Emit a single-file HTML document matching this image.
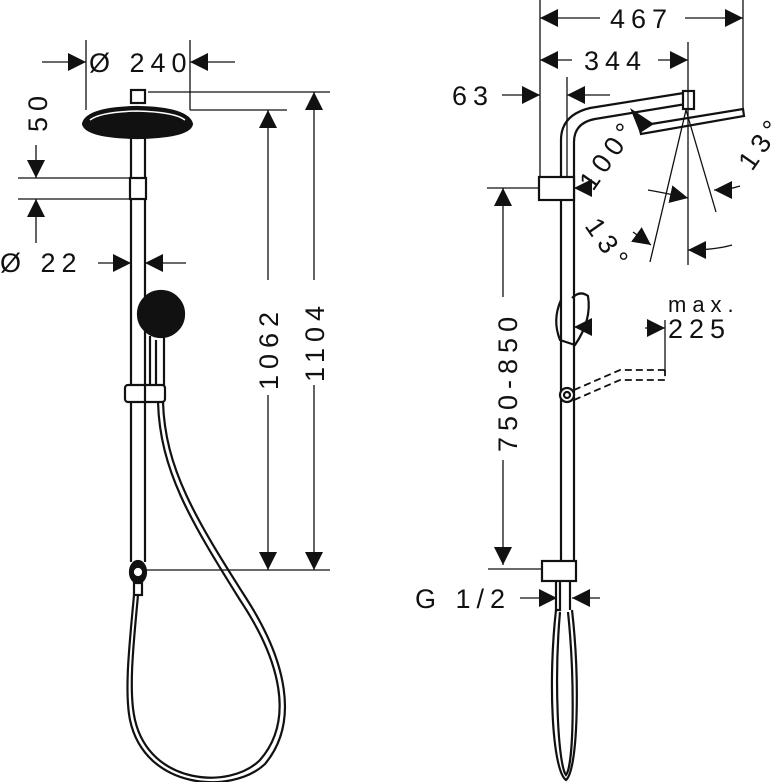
<!DOCTYPE html>
<html><head><style>html,body{margin:0;padding:0;background:#fff}svg{display:block}
text{font-family:"Liberation Sans",sans-serif;font-size:27px;fill:#111;stroke:none;letter-spacing:6px}</style></head>
<body>
<svg width="777" height="782" viewBox="0 0 777 782" xmlns="http://www.w3.org/2000/svg" stroke="#111" fill="none" stroke-width="1.3">
<defs>
<marker id="a" viewBox="0 0 10 10" refX="10" refY="5" markerWidth="18" markerHeight="18" markerUnits="userSpaceOnUse" orient="auto"><path d="M0,0 L10,5 L0,10 z" fill="#111" stroke="none"/></marker>
</defs>
<g stroke-width="2.2">
<line x1="131" y1="137" x2="131" y2="562"/><line x1="145" y1="137" x2="145" y2="562"/>
<rect x="131" y="90" width="14" height="13"/>
<rect x="130" y="178" width="16" height="21" fill="#fff"/>
<path d="M83,124 Q86,108 137,107 Q188,108 192,124 Q190,137 137,138 Q86,137 83,124 z" fill="#111"/>
<path d="M90,120 Q100,112 137,111 Q175,112 185,120" stroke="#fff" stroke-width="1.5"/>
<circle cx="161" cy="314" r="23" fill="#111"/>
<path d="M150,336 L150,392 M164,336 L164,392 M156,340 L156,392"/>
<rect x="125" y="385" width="40" height="17" rx="3" fill="#fff"/>
<line x1="145" y1="385" x2="145" y2="402"/>
<ellipse cx="138" cy="572" rx="8" ry="11" fill="#111"/>
<circle cx="138" cy="572" r="3" fill="#fff" stroke="#fff"/>
<rect x="134" y="583" width="8" height="12"/>
<path d="M158,402 C160,470 190,520 240,600 C280,660 295,720 260,760 C230,790 150,785 135,720 C128,690 134,640 138,595"/>
<path d="M163,402 C165,468 195,518 246,598 C286,660 300,722 265,764 C232,795 145,790 130,720 C124,690 130,640 134,595"/>
</g>
<line x1="86" y1="40" x2="86" y2="110"/><line x1="190" y1="40" x2="190" y2="110"/>
<line x1="42" y1="62" x2="86" y2="62" marker-end="url(#a)"/>
<line x1="235" y1="62" x2="190" y2="62" marker-end="url(#a)"/>
<text x="89" y="72">Ø 240</text>
<line x1="18" y1="178" x2="130" y2="178"/><line x1="18" y1="199" x2="130" y2="199"/>
<line x1="36" y1="145" x2="36" y2="178" marker-end="url(#a)"/>
<line x1="36" y1="243" x2="36" y2="199" marker-end="url(#a)"/>
<text transform="translate(47,132) rotate(-90)">50</text>
<text x="0" y="272">Ø  22</text>
<line x1="98" y1="263" x2="131" y2="263" marker-end="url(#a)"/>
<line x1="186" y1="263" x2="145" y2="263" marker-end="url(#a)"/>
<line x1="148" y1="92" x2="330" y2="92"/><line x1="190" y1="110" x2="287" y2="110"/>
<line x1="145" y1="570" x2="330" y2="570"/>
<line x1="268" y1="280" x2="268" y2="110" marker-end="url(#a)"/>
<line x1="268" y1="395" x2="268" y2="570" marker-end="url(#a)"/>
<line x1="314" y1="280" x2="314" y2="92" marker-end="url(#a)"/>
<line x1="314" y1="385" x2="314" y2="570" marker-end="url(#a)"/>
<text transform="translate(278,390) rotate(-90)">1062</text>
<text transform="translate(324,382) rotate(-90)">1104</text>
<g stroke-width="2.2">
<path d="M561,560 L561,140 Q561,115 590,108 L690,92"/>
<path d="M574,560 L574,142 Q574,123 595,119 L686,104"/>
<rect x="683" y="91" width="11" height="18" fill="#fff"/>
<path d="M639,126 L743,109 L744,116 L641,134 z" fill="#fff"/>
<path d="M630,108 L640,133 L654,124 z" fill="#111" stroke="none"/>
<rect x="539" y="177" width="35" height="23" fill="#fff"/>
<path d="M561,300 Q552,320 560,340 L575,345 Q592,320 588,296 Q580,290 572,298"/>
<circle cx="567" cy="395" r="7" fill="#fff"/><circle cx="567" cy="395" r="3"/>
<rect x="542" y="561" width="34" height="20" fill="#fff"/>
<path d="M556,581 L556,610 L560,610 L560,581 M570,581 L570,610"/>
<path d="M556,610 C548,680 552,770 566,780 C578,770 580,680 572,610"/>
<path d="M560,612 C554,680 558,765 566,775 C574,765 575,680 568,612"/>
</g>
<path d="M574,390 L620,370 L665,370 M574,400 L620,380 L665,380 L665,370" stroke-dasharray="7,4" stroke-width="1.8"/>
<line x1="540" y1="0" x2="540" y2="177"/><line x1="743" y1="0" x2="743" y2="110"/>
<line x1="600" y1="18" x2="540" y2="18" marker-end="url(#a)"/>
<line x1="685" y1="18" x2="743" y2="18" marker-end="url(#a)"/>
<text x="610" y="28">467</text>
<line x1="688" y1="42" x2="688" y2="265"/>
<line x1="572" y1="60" x2="540" y2="60" marker-end="url(#a)"/>
<line x1="658" y1="60" x2="688" y2="60" marker-end="url(#a)"/>
<text x="584" y="70">344</text>
<line x1="567" y1="77" x2="567" y2="177"/>
<line x1="502" y1="95" x2="540" y2="95" marker-end="url(#a)"/>
<line x1="610" y1="95" x2="567" y2="95" marker-end="url(#a)"/>
<text x="452" y="105">63</text>
<line x1="487" y1="188" x2="539" y2="188"/>
<line x1="503" y1="297" x2="503" y2="188" marker-end="url(#a)"/>
<line x1="503" y1="460" x2="503" y2="565" marker-end="url(#a)"/>
<line x1="488" y1="569" x2="542" y2="569"/>
<text transform="translate(517,452) rotate(-90)">750-850</text>
<line x1="520" y1="598" x2="557" y2="598" marker-end="url(#a)"/>
<line x1="600" y1="598" x2="572" y2="598" marker-end="url(#a)"/>
<text x="415" y="608">G 1/2</text>
<line x1="686" y1="110" x2="650" y2="262"/><line x1="686" y1="110" x2="716" y2="212"/>
<path d="M648,190 Q665,193 688,198" marker-end="url(#a)"/>
<path d="M740,186 Q728,190 714,190" marker-end="url(#a)"/>
<line x1="633" y1="232" x2="651" y2="245" marker-end="url(#a)"/>
<path d="M732,245 Q715,250 688,250" marker-end="url(#a)"/>
<line x1="590" y1="188" x2="574" y2="188" marker-end="url(#a)"/>
<text transform="translate(593,192) rotate(-55)">100°</text>
<text transform="translate(584,226) rotate(55)">13°</text>
<text transform="translate(752,172) rotate(-55)">13°</text>
<line x1="665" y1="320" x2="665" y2="372"/>
<line x1="645" y1="328" x2="665" y2="328" marker-end="url(#a)"/>
<text x="668" y="312" style="font-size:22px">max.</text>
<text x="668" y="338">225</text>
<line x1="590" y1="327" x2="574" y2="327" marker-end="url(#a)"/>
</svg>
</body></html>
